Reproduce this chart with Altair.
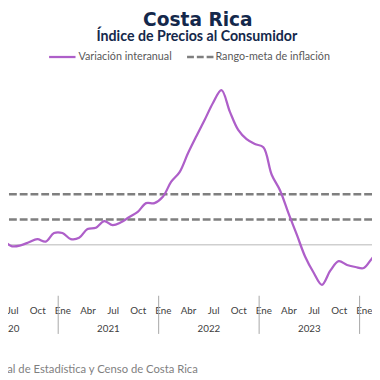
import altair as alt
import pandas as pd

# ---- data (month index 0 = Ene 2021) ----
month_index = list(range(-8, 39))
inflation = [
    0.75, 0.30, -0.12, -0.05, 0.20, 0.45, 0.25, 0.93,        # May-Dic 2020
    0.93, 0.45, 0.55, 1.25, 1.35, 1.87, 1.55, 1.78, 2.20, 2.60, 3.30, 3.30,  # 2021
    3.80, 5.00, 5.76, 7.25, 8.60, 9.90, 11.25, 12.25, 10.55, 9.10, 8.37, 7.98,  # 2022
    7.72, 5.55, 4.30, 2.50, 0.80, -0.95, -2.20, -3.17, -2.05, -1.30, -1.60, -1.76,  # 2023
    -1.84, -1.07, -0.50,                                       # Ene-Mar 2024
]
target_band = [2, 4]
zero_line = [0]
year_labels = ["2020", "2021", "2022", "2023"]
year_centers = [-6.5, 5.5, 17.5, 29.5]
year_bounds = [-0.5, 11.5, 23.5, 35.5]
tick_values = list(range(-6, 37, 3))
title = "Costa Rica"
subtitle = "Índice de Precios al Consumidor"
legend_line = "Variación interanual"
legend_dash = "Rango-meta de inflación"
source = "Fuente: Instituto Nacional de Estadística y Censo de Costa Rica"

FONT = "Lato"
NAVY = "#14284B"
PURPLE = "#AE5FC9"
DASH_GRAY = "#7F7F7F"
TEXT_GRAY = "#595959"

xs = alt.Scale(domain=[-6.496, 36.98], nice=False, zero=False)
ys = alt.Scale(domain=[-4.04, 18.44], nice=False, zero=False)

label_expr = "['Ene','Feb','Mar','Abr','May','Jun','Jul','Ago','Sep','Oct','Nov','Dic'][(datum.value + 120) % 12]"
x_axis = alt.Axis(
    values=tick_values, labelExpr=label_expr, title=None, domain=False,
    ticks=False, grid=False, labelPadding=10, labelFontSize=10,
    labelColor="#404040", labelFont=FONT, labelFlush=False, labelOverlap=False,
)

series = pd.DataFrame({"m": month_index, "v": inflation})

zero = alt.Chart(pd.DataFrame({"v": zero_line})).mark_rule(
    color="#CFCFCF", strokeWidth=1.5
).encode(y=alt.Y("v:Q", scale=ys, axis=None))

band = alt.Chart(pd.DataFrame({"v": target_band})).mark_rule(
    color=DASH_GRAY, strokeWidth=2.7, strokeDash=[8, 3]
).encode(y=alt.Y("v:Q", scale=ys, axis=None))

line = alt.Chart(series).mark_line(
    color=PURPLE, strokeWidth=2.3, interpolate="catmull-rom", clip=True
).encode(
    x=alt.X("m:Q", scale=xs, axis=x_axis),
    y=alt.Y("v:Q", scale=ys, axis=None),
)

seps = alt.Chart(pd.DataFrame({"m": year_bounds})).mark_rule(
    color="#A6A6A6", strokeWidth=1
).encode(x=alt.X("m:Q", scale=xs, axis=x_axis), y=alt.value(290), y2=alt.value(329))

years = alt.Chart(pd.DataFrame({"m": year_centers, "t": year_labels})).mark_text(
    font=FONT, fontSize=10, color="#404040", baseline="middle"
).encode(x=alt.X("m:Q", scale=xs, axis=x_axis), y=alt.value(324), text="t:N")

def txt(s, x, y, size, color, weight="normal", align="center", baseline="alphabetic", font=FONT):
    return alt.Chart(pd.DataFrame({"t": [s]})).mark_text(
        font=font, fontSize=size, color=color, fontWeight=weight,
        align=align, baseline=baseline,
    ).encode(x=alt.value(x), y=alt.value(y), text="t:N")

t1 = txt(title, 194, 14, 19, NAVY, "bold", font="DejaVu Sans")
t2 = txt(subtitle, 193, 29.5, 14.5, NAVY, "bold")
leg_t1 = txt(legend_line, 72, 46, 11, TEXT_GRAY, align="left", baseline="middle")
leg_t2 = txt(legend_dash, 212, 46, 11, TEXT_GRAY, align="left", baseline="middle")
src = txt(source, 194, 369, 11.5, "#7F7F7F", align="right")

leg_l1 = alt.Chart(pd.DataFrame({"a": [0]})).mark_rule(color=PURPLE, strokeWidth=2.3).encode(
    x=alt.value(42), x2=alt.value(69), y=alt.value(46))
leg_l2 = alt.Chart(pd.DataFrame({"a": [0]})).mark_rule(
    color=DASH_GRAY, strokeWidth=2.7, strokeDash=[7, 3]).encode(
    x=alt.value(183), x2=alt.value(210), y=alt.value(46))

chart = alt.layer(
    zero, band, line, seps, years, t1, t2, leg_l1, leg_t1, leg_l2, leg_t2, src
).properties(
    width=372, height=290,
    autosize=alt.AutoSizeParams(type="none"),
    padding={"left": 0, "top": 0, "right": 0, "bottom": 82},
    background="white",
).configure_view(stroke=None)

chart.save("out.html", embed_options={"renderer": "svg", "actions": False})
